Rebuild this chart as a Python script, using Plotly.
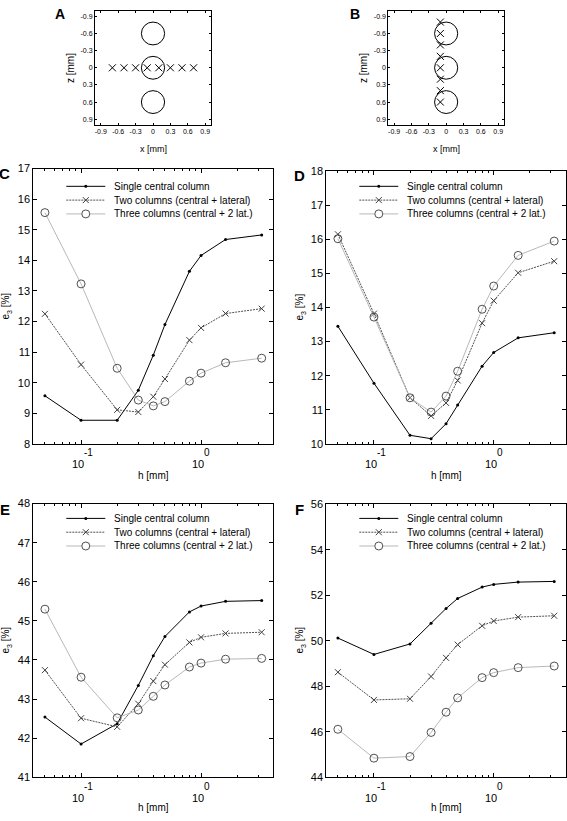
import plotly.graph_objects as go
import numpy as np

# ---------------- data ----------------
h_mm = [0.05, 0.1, 0.2, 0.3, 0.4, 0.5, 0.8, 1.0, 1.6, 3.2]
series_names = ["Single central column",
                "Two columns (central + lateral)",
                "Three columns (central + 2 lat.)"]

c_single = [9.57, 8.77, 8.77, 9.75, 10.90, 11.90, 13.64, 14.16, 14.68, 14.83]
c_two = [12.25, 10.59, 9.11, 9.04, 9.54, 10.12, 11.39, 11.79, 12.26, 12.42]
c_three = [15.56, 13.23, 10.47, 9.43, 9.24, 9.38, 10.05, 10.31, 10.65, 10.80]

d_single = [13.45, 11.78, 10.25, 10.15, 10.59, 11.14, 12.28, 12.68, 13.11, 13.26]
d_two = [16.15, 13.82, 11.35, 10.82, 11.20, 11.86, 13.54, 14.20, 15.02, 15.36]
d_three = [16.02, 13.72, 11.35, 10.93, 11.40, 12.13, 13.95, 14.63, 15.53, 15.95]

e_single = [42.54, 41.85, 42.37, 43.35, 44.11, 44.60, 45.23, 45.38, 45.50, 45.52]
e_two = [43.74, 42.51, 42.29, 42.88, 43.46, 43.88, 44.45, 44.58, 44.68, 44.71]
e_three = [45.30, 43.56, 42.52, 42.72, 43.07, 43.36, 43.82, 43.92, 44.02, 44.04]

f_single = [50.12, 49.40, 49.86, 50.77, 51.42, 51.86, 52.36, 52.48, 52.58, 52.61]
f_two = [48.62, 47.40, 47.45, 48.43, 49.25, 49.83, 50.66, 50.87, 51.04, 51.10]
f_three = [46.11, 44.84, 44.91, 45.97, 46.86, 47.49, 48.38, 48.60, 48.82, 48.89]

# electrode / column geometry (panels A, B)
column_x = [0.0, 0.0, 0.0]
column_z = [-0.6, 0.0, 0.6]
column_r = 0.2
a_x = [-0.7, -0.5, -0.3, -0.1, 0.1, 0.3, 0.5, 0.7]
a_z = [0, 0, 0, 0, 0, 0, 0, 0]
b_x = [-0.1, -0.1, -0.1, -0.1, -0.1, -0.1, -0.1, -0.1]
b_z = [-0.8, -0.6, -0.4, -0.2, 0.0, 0.2, 0.4, 0.6]

geo_ticks = [-0.9, -0.6, -0.3, 0, 0.3, 0.6, 0.9]
geo_ticktext = ["-0.9", "-0.6", "-0.3", "0", "0.3", "0.6", "0.9"]

log_major = [0.1, 1.0]
log_major_exp = ["-1", "0"]
log_minor = [0.05, 0.06, 0.07, 0.08, 0.09, 0.2, 0.3, 0.4, 0.5, 0.6, 0.7, 0.8, 0.9, 2, 3, 4]

# ---------------- layout helpers ----------------
W, H = 567, 821
FONT = "Liberation Sans, Arial, sans-serif"


def px_x(v):
    return v / W


def px_y(v):
    return 1 - v / H


def dx(l, r):
    return [l / W, r / W]


def dy(t, b):
    return [1 - b / H, 1 - t / H]


fig = go.Figure()
shapes = []
annotations = []

# ---------- panels A and B ----------
for k, (mx, mz) in enumerate([(a_x, a_z), (b_x, b_z)], start=1):
    xr = "x" if k == 1 else "x2"
    yr_ = "y" if k == 1 else "y2"
    fig.add_trace(go.Scatter(
        x=mx, y=mz, mode="markers", showlegend=False,
        marker=dict(symbol="x-thin", size=7, line=dict(width=1, color="black"), color="black"),
        xaxis=xr, yaxis=yr_))
    for cx, cz in zip(column_x, column_z):
        shapes.append(dict(type="circle", xref=xr, yref=yr_,
                           x0=cx - column_r, x1=cx + column_r, y0=cz - column_r, y1=cz + column_r,
                           line=dict(color="black", width=1)))

geo_axis = dict(range=[-1, 1], tickmode="array", tickvals=geo_ticks, ticktext=geo_ticktext,
                ticks="inside", ticklen=2, tickcolor="black", showline=True, linecolor="black",
                linewidth=1, mirror="ticks", showgrid=False, zeroline=False,
                tickfont=dict(size=7, family=FONT, color="black"))
fig.update_layout(
    xaxis=dict(geo_axis, domain=dx(95, 211), anchor="y"),
    yaxis=dict(geo_axis, domain=dy(4.7, 120.7), anchor="x", range=[1, -1]),
    xaxis2=dict(geo_axis, domain=dx(388.3, 504), anchor="y2"),
    yaxis2=dict(geo_axis, domain=dy(4.7, 120.7), anchor="x2", range=[1, -1]),
)

# ---------- panels C-F ----------
# (x axis, y axis, series, left px, right px, top px, bottom px, y range, y step, legend rows px)
panels = [
    ("x3", "y3", (c_single, c_two, c_three), 33.3, 273.3, 165, 444.3, [8, 17], 1, [183, 197, 211]),
    ("x4", "y4", (d_single, d_two, d_three), 326.3, 565.8, 167.7, 444.3, [10, 18], 1, [183, 197, 211]),
    ("x5", "y5", (e_single, e_two, e_three), 33.3, 273.3, 505, 782.7, [41, 48], 1, [520, 534, 548]),
    ("x6", "y6", (f_single, f_two, f_three), 326.3, 565.8, 505.7, 782.7, [44, 56], 2, [520, 534, 548]),
]

line_styles = [
    dict(color="black", width=1),
    dict(color="#505050", width=1, dash="2px,1px"),
    dict(color="#b8b8b8", width=1),
]
marker_styles = [
    dict(symbol="circle", size=3, color="black"),
    dict(symbol="x-thin", size=6, color="#404040", line=dict(width=1, color="#404040")),
    dict(symbol="circle-open", size=8, color="#505050", line=dict(width=1, color="#505050")),
]

for (xa, ya, series, L, R, T, B, yrange, ystep, rows) in panels:
    for name, vals, ls, ms in zip(series_names, series, line_styles, marker_styles):
        fig.add_trace(go.Scatter(x=h_mm, y=vals, mode="lines+markers", name=name,
                                 xaxis=xa, yaxis=ya, showlegend=False, line=ls, marker=ms))
    xkey = "xaxis" + xa[1:]
    ykey = "yaxis" + ya[1:]
    fig.layout[xkey] = dict(
        type="log", domain=dx(L, R), anchor=ya, range=[np.log10(0.04), np.log10(4)],
        tickmode="array", tickvals=log_major, showticklabels=False,
        ticks="inside", ticklen=4, tickcolor="black", showline=True, linecolor="black",
        linewidth=1, mirror="ticks", showgrid=False, zeroline=False,
        minor=dict(tickmode="array", tickvals=log_minor, ticks="inside", ticklen=2,
                   tickcolor="black", showgrid=False))
    fig.layout[ykey] = dict(
        domain=dy(T, B), anchor=xa, range=yrange, dtick=ystep, tick0=0,
        ticks="inside", ticklen=4, tickcolor="black", showline=True, linecolor="black",
        linewidth=1, mirror="ticks", showgrid=False, zeroline=False,
        tickfont=dict(size=11, family=FONT, color="black"))
    # log-axis tick labels (MATLAB style: exponent above-right of the base)
    for v, e in zip(log_major, log_major_exp):
        annotations.append(dict(text="10", x=np.log10(v), xref=xa, y=px_y(B), yref="paper",
                                xanchor="center", yanchor="middle", xshift=-3, yshift=-20.5,
                                showarrow=False, font=dict(size=11, family=FONT, color="black")))
        annotations.append(dict(text=e, x=np.log10(v), xref=xa, y=px_y(B), yref="paper",
                                xanchor="left", yanchor="middle", xshift=1, yshift=-9,
                                showarrow=False, font=dict(size=10, family=FONT, color="black")))

    # legend (drawn in the panel's upper area)
    x0, x1 = L + 33, L + 72
    xm = (x0 + x1) / 2
    for j, (name, ls, yrow) in enumerate(zip(series_names, line_styles, rows)):
        shapes.append(dict(type="line", xref="paper", yref="paper",
                           x0=px_x(x0), x1=px_x(x1), y0=px_y(yrow), y1=px_y(yrow), line=ls))
        if j == 0:
            shapes.append(dict(type="circle", xref="paper", yref="paper",
                               xsizemode="pixel", ysizemode="pixel",
                               xanchor=px_x(xm), yanchor=px_y(yrow),
                               x0=-1.5, x1=1.5, y0=-1.5, y1=1.5,
                               fillcolor="black", line=dict(color="black", width=0)))
        elif j == 1:
            for sgn in (1, -1):
                shapes.append(dict(type="line", xref="paper", yref="paper",
                                   xsizemode="pixel", ysizemode="pixel",
                                   xanchor=px_x(xm), yanchor=px_y(yrow),
                                   x0=-3, x1=3, y0=-3 * sgn, y1=3 * sgn,
                                   line=dict(color="#404040", width=1)))
        else:
            shapes.append(dict(type="circle", xref="paper", yref="paper",
                               xsizemode="pixel", ysizemode="pixel",
                               xanchor=px_x(xm), yanchor=px_y(yrow),
                               x0=-4, x1=4, y0=-4, y1=4,
                               fillcolor="white", line=dict(color="#505050", width=1)))
        annotations.append(dict(text=name, x=px_x(L + 78.5), y=px_y(yrow), xref="paper", yref="paper",
                                xanchor="left", yanchor="middle", showarrow=False,
                                font=dict(size=10, family=FONT, color="black")))


# ---------- text labels ----------
def label(text, xp, yp, size, bold=False, angle=0):
    annotations.append(dict(text=("<b>%s</b>" % text) if bold else text, x=px_x(xp), y=px_y(yp),
                            xref="paper", yref="paper", xanchor="center", yanchor="middle",
                            showarrow=False, textangle=angle,
                            font=dict(size=size, family=FONT, color="black")))


label("A", 60, 8, 14, bold=True)
label("B", 354.7, 8, 14, bold=True)
label("C", 4.5, 170, 15, bold=True)
label("D", 299, 172, 15, bold=True)
label("E", 4.5, 510.5, 15, bold=True)
label("F", 299.5, 510.5, 15, bold=True)

label("x [mm]", 153, 145, 9)
label("x [mm]", 446.3, 145, 9)
label("z [mm]", 70, 63, 10, angle=-90)
label("z [mm]", 363, 63, 10, angle=-90)

label("h [mm]", 153.7, 476, 10)
label("h [mm]", 446.5, 476, 10)
label("h [mm]", 153.7, 813.5, 10)
label("h [mm]", 446.5, 813.5, 10)

label("e<sub>3</sub> [%]", 6, 305, 10, angle=-90)
label("e<sub>3</sub> [%]", 300, 306, 10, angle=-90)
label("e<sub>3</sub> [%]", 6, 644, 10, angle=-90)
label("e<sub>3</sub> [%]", 300, 644, 10, angle=-90)

fig.update_layout(
    width=W, height=H, margin=dict(l=0, r=0, t=0, b=0, pad=0),
    paper_bgcolor="white", plot_bgcolor="white",
    font=dict(family=FONT, color="black"),
    shapes=shapes,
    annotations=annotations,
    showlegend=False,
)

fig.write_html("out.html",
               config={"displayModeBar": False},
               post_script="document.body.style.margin='0px';document.body.style.overflow='hidden';")
